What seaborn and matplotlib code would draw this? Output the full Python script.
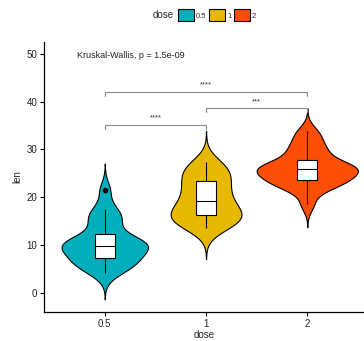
import matplotlib
matplotlib.use("Agg")
import matplotlib.pyplot as plt
import numpy as np
import pandas as pd
import seaborn as sns
from matplotlib.patches import Patch

# ToothGrowth lengths, grouped by dose (VC then OJ)
len_05 = [4.2, 11.5, 7.3, 5.8, 6.4, 10, 11.2, 11.2, 5.2, 7,
          15.2, 21.5, 17.6, 9.7, 14.5, 10, 8.2, 9.4, 16.5, 9.7]
len_1 = [16.5, 16.5, 15.2, 17.3, 22.5, 17.3, 13.6, 14.5, 18.8, 15.5,
         19.7, 23.3, 23.6, 26.4, 20, 25.2, 25.8, 21.2, 14.5, 27.3]
len_2 = [23.6, 18.5, 33.9, 25.5, 26.4, 32.5, 26.7, 21.5, 23.3, 29.5,
         25.5, 26.4, 22.4, 24.5, 24.8, 30.9, 26.4, 27.3, 29.4, 23]
doses = ["0.5", "1", "2"]
colors = ["#00AFBB", "#E7B800", "#FC4E07"]

comparisons = [("0.5", "1"), ("1", "2"), ("0.5", "2")]
comp_labels = ["****", "***", "****"]
comp_y = [35.2, 38.7, 42.1]
kw_label = "Kruskal-Wallis, p = 1.5e-09"

d = pd.DataFrame({
    "dose": ["0.5"] * len(len_05) + ["1"] * len(len_1) + ["2"] * len(len_2),
    "len": len_05 + len_1 + len_2,
})


def nrd0(kde):
    # R's default bandwidth (bw.nrd0), expressed as a scipy factor
    x = kde.dataset.ravel()
    sd = np.std(x, ddof=1)
    iqr = np.subtract(*np.percentile(x, [75, 25]))
    bw = 0.9 * min(sd, iqr / 1.34) * len(x) ** -0.2
    return bw / sd


sns.set_style("ticks")
plt.rcParams["font.family"] = ["Liberation Sans", "DejaVu Sans"]

fig = plt.figure(figsize=(3.64, 3.41), dpi=100)
ax = fig.add_axes([0.121, 0.085, 0.879, 0.792])

sns.violinplot(data=d, x="dose", y="len", hue="dose", order=doses, hue_order=doses,
               palette=colors, inner=None, cut=3, bw_method=nrd0, width=1,
               density_norm="area", common_norm=True, linecolor="black",
               linewidth=0.8, saturation=1, legend=False, ax=ax)
sns.boxplot(data=d, x="dose", y="len", order=doses, width=0.2, color="white",
            fill=True, linecolor="black", linewidth=0.8, showcaps=False,
            flierprops=dict(marker="o", markerfacecolor="black",
                            markeredgecolor="black", markersize=3),
            saturation=1, ax=ax)
for p in ax.patches:
    if p.get_facecolor()[:3] == (1.0, 1.0, 1.0):
        p.set_zorder(3)
for ln in ax.lines:
    ln.set_zorder(4)

# comparison brackets
for (a, b), lab, y in zip(comparisons, comp_labels, comp_y):
    xa, xb = doses.index(a), doses.index(b)
    ax.plot([xa, xa, xb, xb], [y - 0.9, y, y, y - 0.9], color="#8a8a8a", lw=0.8,
            clip_on=False)
    ax.text((xa + xb) / 2, y + 0.6, lab, ha="center", va="bottom", fontsize=5.5,
            color="#333333")

ax.text(-0.27, 49.6, kw_label, ha="left", va="center", fontsize=6.5, color="#222222")

ax.set_xlim(-0.6, 2.56)
ax.set_ylim(-4, 52.5)
ax.set_yticks([0, 10, 20, 30, 40, 50])
ax.set_xlabel("dose", fontsize=7, labelpad=1)
ax.set_ylabel("len", fontsize=7, labelpad=3)
ax.tick_params(labelsize=7, length=3, width=0.8, color="black", labelcolor="#222222", pad=2)
for s in ["top", "right"]:
    ax.spines[s].set_visible(False)
for s in ["left", "bottom"]:
    ax.spines[s].set_linewidth(0.9)
    ax.spines[s].set_color("black")

handles = [Patch(facecolor=c, edgecolor="black", linewidth=0.8) for c in colors]
fig.text(0.477, 0.955, "dose", ha="right", va="center", fontsize=7)
fig.legend(handles, doses, loc="center left", bbox_to_anchor=(0.49, 0.955), ncol=3,
           frameon=False, fontsize=5.5, handlelength=2.0, handleheight=2.0,
           handletextpad=0.3, columnspacing=0.4, borderpad=0, borderaxespad=0)

fig.savefig("out.png", dpi=100)
